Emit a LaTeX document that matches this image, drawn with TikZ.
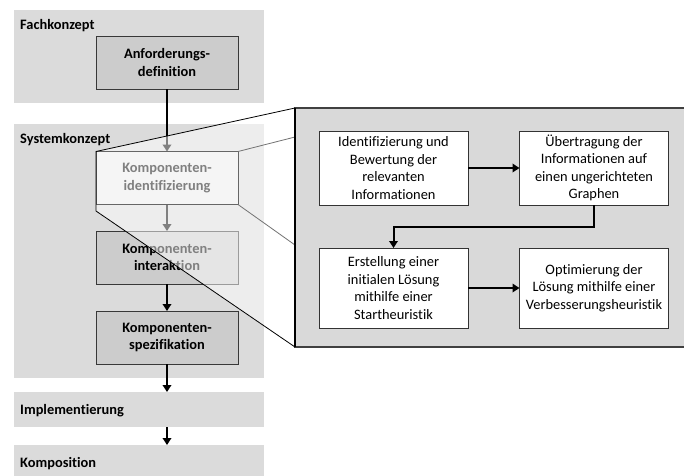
\documentclass[tikz,border=0pt]{standalone}
\usepackage{fontspec}
\setmainfont{Carlito}[RawFeature={-liga;-clig;-calt;-dlig}]
\usetikzlibrary{arrows.meta}
\pgfdeclarelayer{veil}
\pgfdeclarelayer{front}
\pgfsetlayers{main,veil,front}
\newcommand{\figsize}{\fontsize{14.4pt}{17.5pt}\selectfont}

\begin{document}
\begin{tikzpicture}[x=1pt,y=-1pt]
      \colorlet{bandcolor}{black!14}
      \colorlet{boxcolor}{black!20}
      \colorlet{panelcolor}{black!15}
      \colorlet{fadecolor}{black!50}
      \tikzset{band/.style={fill=bandcolor,minimum width=250pt,outer sep=0pt},
        phase/.style={font=\figsize\bfseries,inner sep=0pt,anchor=base west},
        stepbox/.style={draw=black!78,line width=1pt,fill=boxcolor,minimum width=142pt,
          minimum height=53pt,align=center,font=\figsize\bfseries,outer sep=0pt},
        taskbox/.style={draw=black!80,line width=1pt,fill=white,minimum width=149pt,
          align=center,font=\figsize,inner xsep=2pt,outer sep=0pt},
        flow/.style={line width=2pt,-{Triangle[length=7pt,width=8.5pt]}}}

      \useasboundingbox (0,0) rectangle (684,475);
      \clip (0,0) rectangle (684,475);

      \node[band,minimum height=93pt] (fach) at (139,56.5) {};
      \node[band,minimum height=254pt] (sys) at (139,251) {};
      \node[band,minimum height=35pt] (impl) at (139,409.5) {};
      \node[band,minimum height=35pt] (komp) at (139,462.5) {};
      \node[phase] (fachlbl) at ([shift={(6,19)}]fach.north west) {Fachkonzept};
      \node[phase] (syslbl) at ([shift={(6,19)}]sys.north west) {Systemkonzept};
      \node[phase] (impllbl) at ([shift={(6,4.6)}]impl.west) {Implementierung};
      \node[phase] (komplbl) at ([shift={(6,4.6)}]komp.west) {Komposition};

      \node[stepbox] (anf) at (167,62.5) {Anforderungs-\\definition};
      \begin{pgfonlayer}{front}
      \node[stepbox,fill=black!4,draw=black!60,text=fadecolor] (ident) at (167,178)
          {Komponenten-\\identifizierung};
      \end{pgfonlayer}
      \node[stepbox] (inter) at (167,257.5) {Komponenten-\\interaktion};
      \node[stepbox] (spez) at (167,337.5) {Komponenten-\\spezifikation};

      \node[draw=black!75,line width=1.5pt,fill=panelcolor,minimum width=405pt,
          minimum height=239pt,outer sep=0pt] (panel) at (497.5,227.5) {};
      \node[taskbox,minimum height=74pt] (info) at (393.5,168)
          {Identifizierung und\\Bewertung der\\relevanten\\Informationen};
      \node[taskbox,minimum height=74pt] (graph) at (594,168)
          {Übertragung der\\Informationen auf\\einen ungerichteten\\Graphen};
      \node[taskbox,minimum height=80pt] (start) at (393.5,288)
          {Erstellung einer\\initialen Lösung\\mithilfe einer\\Startheuristik};
      \node[taskbox,minimum height=80pt] (opt) at (594,288)
          {Optimierung der\\Lösung mithilfe einer\\Verbesserungsheuristik};

      \draw[flow] (info) -- (graph);
      \draw[flow] (graph.south) -- ++(0,22) -| (start.north);
      \draw[flow] (start) -- (opt);

      \draw[flow] (anf) -- (ident);
      \draw[flow] (ident) -- (inter);
      \draw[flow] (inter) -- (spez);
      \draw[flow] (spez) -- (spez |- impl.north);
      \draw[flow] (spez |- impl.south) -- (spez |- komp.north);

      \coordinate (fbl) at (96,211);
      \coordinate (ftop) at (295,137);
      \coordinate (fbot) at (295,245);
      \begin{pgfonlayer}{veil}
      \fill[white,fill opacity=0.5] (ident.north west) -- (panel.north west)
          -- (panel.south west) -- (fbl) -- cycle;
      \end{pgfonlayer}
      \begin{pgfonlayer}{front}
      \draw[black!55,line width=0.8pt] (ident.north east) -- (ftop)
          (ident.south east) -- (fbot);
      \draw[line width=0.8pt] (panel.north west) -- (ident.north west) -- (fbl)
          -- (panel.south west);
      \draw[line width=1.5pt] (panel.north west) -- (panel.south west);
      \end{pgfonlayer}
\end{tikzpicture}
\end{document}
